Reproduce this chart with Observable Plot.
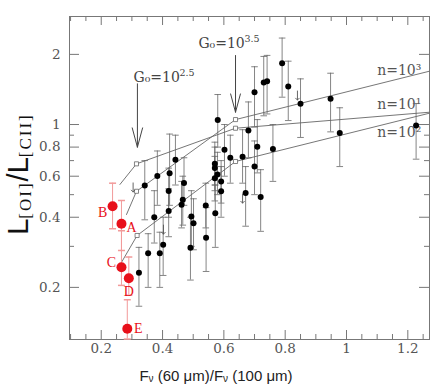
<!DOCTYPE html>
<html>
<head>
<meta charset="utf-8">
<script src="https://cdn.jsdelivr.net/npm/d3@7"></script>
<script src="https://cdn.jsdelivr.net/npm/@observablehq/plot@0.6"></script>
<style>
  body { margin: 0; background: #fff; }
  #chart svg { display: block; }
</style>
</head>
<body>
<div id="chart"></div>
<script>
// ---- Galaxy sample (black points) ----
const sampleX  = [0.323,0.342,0.353,0.373,0.383,0.391,0.402,0.420,0.420,0.423,0.442,0.470,0.466,0.462,0.494,0.501,0.491,0.541,0.542,0.572,0.580,0.5705,0.5705,0.579,0.5705,0.591,0.591,0.602,0.621,0.661,0.671,0.700,0.720,0.680,0.709,0.760,0.700,0.730,0.741,0.790,0.810,0.850,0.948,0.978,1.227];
const sampleY  = [0.231,0.547,0.280,0.400,0.601,0.280,0.305,0.425,0.518,0.618,0.706,0.561,0.475,0.453,0.403,0.377,0.296,0.449,0.327,0.416,1.045,0.678,0.651,0.610,0.588,0.569,0.517,0.779,0.720,0.727,0.508,0.660,0.488,0.942,0.802,0.785,1.376,1.514,1.534,1.832,1.456,1.227,1.289,0.920,0.990];
const sampleLo = [0.166,0.390,0.200,0.310,0.450,0.200,0.225,0.330,0.400,0.450,0.550,0.450,0.370,0.360,0.300,0.290,0.215,0.360,0.234,0.297,0.800,0.550,0.520,0.500,0.470,0.460,0.400,0.600,0.560,0.560,0.366,0.500,0.348,0.720,0.620,0.570,0.975,1.090,1.110,1.310,1.040,0.880,0.930,0.660,0.710];
const sampleHi = [0.297,0.700,0.340,0.520,0.770,0.345,0.400,0.530,0.650,0.910,0.900,0.720,0.600,0.570,0.520,0.480,0.400,0.560,0.440,0.550,1.345,0.840,0.800,0.760,0.730,0.700,0.660,1.000,0.900,0.950,0.660,0.850,0.640,1.250,1.050,1.000,1.770,1.960,1.980,2.350,1.870,1.570,1.660,1.180,1.230];

// ---- Upper limits (arrows) ----
const limitX = [0.304,0.403,0.661,0.840];
const limitY = [0.537,0.354,0.481,1.332];

// ---- Red points A-E ----
const redNames = ["A","B","C","D","E"];
const redX  = [0.266,0.237,0.266,0.290,0.285];
const redY  = [0.375,0.446,0.244,0.219,0.133];
const redLo = [0.288,0.357,0.204,0.185,0.120];
const redHi = [0.472,0.560,0.350,0.270,0.177];
const redTagX = [0.299,0.205,0.2335,0.290,0.3206];
const redTagY = [0.362,0.418,0.2565,0.192,0.1328];

// ---- PDR model tracks ----
const modelNames = ["n=10¹","n=10²","n=10³"];
const n1X = [0.261,0.315,0.638,1.27], n1Y = [0.553,0.678,0.964,1.129];
const n2X = [0.266,0.317,0.638,1.27], n2Y = [0.256,0.334,0.694,1.118];
const n3X = [0.2825,0.315,0.638,1.27], n3Y = [0.411,0.517,1.050,1.693];
const modelTagX = [1.100,1.100,1.100];
const modelTagY = [1.220,0.925,1.705];

// ---- G0 annotations ----
const g0Names = ["2.5","3.5"];
const g0X  = [0.318,0.638];
const g0Y1 = [1.495,1.978];
const g0Y2 = [0.799,1.129];
const g0TagX = [0.3053,0.517];
const g0TagY = [1.591,2.227];

// ---- ticks ----
const xTicks = [0.2,0.4,0.6,0.8,1.0,1.2];
const xTickLabels = ["0.2","0.4","0.6","0.8","1","1.2"];
const xMinor = [0.1,0.15,0.25,0.3,0.35,0.45,0.5,0.55,0.65,0.7,0.75,0.85,0.9,0.95,1.05,1.1,1.15,1.25];
const yTicks = [0.2,0.4,0.6,0.8,1,2];
const yTickLabels = ["0.2","0.4","0.6","0.8","1","2"];
const yMinor = [0.3,0.5,0.7,0.9];

// ---- build tables ----
const samples = sampleX.map((x, i) => ({x, y: sampleY[i], lo: sampleLo[i], hi: sampleHi[i]}));
const reds = redNames.map((name, i) => ({name, x: redX[i], y: redY[i], lo: redLo[i], hi: redHi[i], tx: redTagX[i], ty: redTagY[i]}));
const limits = limitX.map((x, i) => ({x, y: limitY[i]}));
const tracks = [[n1X, n1Y], [n2X, n2Y], [n3X, n3Y]].flatMap(([xs, ys], k) =>
  xs.map((x, i) => ({n: modelNames[k], x, y: ys[i], idx: i})));
const squares = tracks.filter(d => d.idx === 1 || d.idx === 2);
const modelTags = modelNames.map((t, i) => ({t, x: modelTagX[i], y: modelTagY[i]}));
const g0 = g0Names.map((e, i) => ({e, x: g0X[i], y1: g0Y1[i], y2: g0Y2[i], tx: g0TagX[i], ty: g0TagY[i]}));

const capSymbol = {
  draw(context, size) {
    const r = Math.sqrt(size / Math.PI);
    context.moveTo(-r, 0);
    context.lineTo(r, 0);
  }
};

const W = 436, H = 387, mL = 69, mR = 7, mT = 16, mB = 48;
const iw = W - mL - mR, ih = H - mT - mB;
const axisGray = "#777";
const serif = "DejaVu Serif";

const chart = Plot.plot({
  width: W, height: H,
  marginLeft: mL, marginRight: mR, marginTop: mT, marginBottom: mB,
  x: {domain: [0.0965, 1.2707], axis: null},
  y: {type: "log", domain: [0.1195, 2.908], axis: null},
  style: {background: "white", fontFamily: serif},
  marks: [
    // inward ticks, all four sides
    Plot.ruleX(xTicks, {x: d => d, insetTop: ih - 9, stroke: axisGray}),
    Plot.ruleX(xMinor, {x: d => d, insetTop: ih - 5, stroke: axisGray}),
    Plot.ruleX(xTicks, {x: d => d, insetBottom: ih - 9, stroke: axisGray}),
    Plot.ruleX(xMinor, {x: d => d, insetBottom: ih - 5, stroke: axisGray}),
    Plot.ruleY(yTicks, {y: d => d, insetRight: iw - 10, stroke: axisGray}),
    Plot.ruleY(yMinor, {y: d => d, insetRight: iw - 5, stroke: axisGray}),
    Plot.ruleY(yTicks, {y: d => d, insetLeft: iw - 10, stroke: axisGray}),
    Plot.ruleY(yMinor, {y: d => d, insetLeft: iw - 5, stroke: axisGray}),
    Plot.frame({stroke: axisGray}),
    // tick labels
    Plot.text(xTicks, {x: d => d, text: (d, i) => xTickLabels[i], frameAnchor: "bottom", dy: 13, fontSize: 13.5, fill: "#555", fontFamily: serif}),
    Plot.text(yTicks, {y: d => d, text: (d, i) => yTickLabels[i], frameAnchor: "left", textAnchor: "end", dx: -9, fontSize: 13.5, fill: "#555", fontFamily: serif}),
    // model tracks
    Plot.line(tracks, {x: "x", y: "y", z: "n", stroke: "#666", strokeWidth: 0.9}),
    Plot.dot(squares, {x: "x", y: "y", symbol: "square", r: 2.3, stroke: "#666", strokeWidth: 0.8, fill: "white"}),
    Plot.text(modelTags, {x: "x", y: "y", text: "t", textAnchor: "start", fontSize: 14, fill: "#555", fontFamily: serif}),
    // G0 arrows
    Plot.arrow(g0, {x1: "x", x2: "x", y1: "y1", y2: "y2", stroke: "#444", strokeWidth: 1, headLength: 30, headAngle: 30}),
    Plot.text(g0, {x: "tx", y: "ty", text: d => "G₀=10", textAnchor: "start", fontSize: 14, fill: "#444", fontFamily: serif}),
    Plot.text(g0, {x: "tx", y: "ty", text: "e", textAnchor: "start", dx: 46, dy: -5, fontSize: 9.5, fill: "#444", fontFamily: serif}),
    // black sample with error bars
    Plot.ruleX(samples, {x: "x", y1: "lo", y2: "hi", stroke: "#666", strokeWidth: 0.8}),
    Plot.dot(samples, {x: "x", y: "lo", symbol: capSymbol, r: 3.3, stroke: "#666", strokeWidth: 0.8, fill: "none"}),
    Plot.dot(samples, {x: "x", y: "hi", symbol: capSymbol, r: 3.3, stroke: "#666", strokeWidth: 0.8, fill: "none"}),
    Plot.vector(limits, {x: "x", y: "y", length: 9, rotate: 180, anchor: "middle", shape: "arrow", stroke: "#555", strokeWidth: 0.9}),
    Plot.dot(samples, {x: "x", y: "y", r: 3, fill: "black", stroke: "none"}),
    // red points
    Plot.ruleX(reds, {x: "x", y1: "lo", y2: "hi", stroke: "#f29a9a", strokeWidth: 1}),
    Plot.dot(reds, {x: "x", y: "lo", symbol: capSymbol, r: 3.5, stroke: "#f29a9a", fill: "none"}),
    Plot.dot(reds, {x: "x", y: "hi", symbol: capSymbol, r: 3.5, stroke: "#f29a9a", fill: "none"}),
    Plot.dot(reds, {x: "x", y: "y", r: 5, fill: "#e8101a", stroke: "none"}),
    Plot.text(reds, {x: "tx", y: "ty", text: "name", fontSize: 14, fill: "#e8101a", fontFamily: "Liberation Serif"})
  ]
});

const svg = d3.select(chart);
// y-axis title: L[OI]/L[CII]
const yt = svg.append("text")
  .attr("transform", "translate(28,174) rotate(-90)")
  .attr("text-anchor", "middle")
  .attr("fill", "#111")
  .style("font-family", "Liberation Sans, Arial, sans-serif")
  .style("font-size", "29px");
yt.append("tspan").text("L");
yt.append("tspan").attr("dy", 3).style("font-size", "17px").style("letter-spacing", "2px").style("font-family", "Liberation Serif, serif").text("[OI]");
yt.append("tspan").attr("dy", -3).text("/L");
yt.append("tspan").attr("dy", 3).style("font-size", "17px").style("letter-spacing", "2px").style("font-family", "Liberation Serif, serif").text("[CII]");

// x-axis title: Fν (60 μm)/Fν (100 μm)
const xt = svg.append("text")
  .attr("x", 216).attr("y", 381)
  .attr("text-anchor", "middle")
  .attr("fill", "#222")
  .style("font-family", "Liberation Sans, Arial, sans-serif")
  .style("font-size", "15px");
xt.append("tspan").text("F");
xt.append("tspan").attr("dy", 1).style("font-size", "10px").text("ν");
xt.append("tspan").attr("dy", -1).text(" (60 μm)/F");
xt.append("tspan").attr("dy", 1).style("font-size", "10px").text("ν");
xt.append("tspan").attr("dy", -1).text(" (100 μm)");

document.getElementById("chart").appendChild(chart);
</script>
</body>
</html>
